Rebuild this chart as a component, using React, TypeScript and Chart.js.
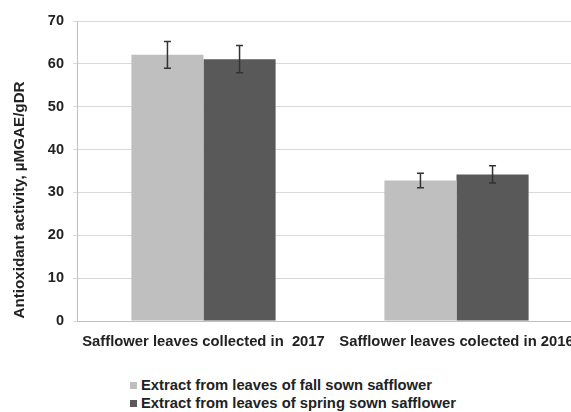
import React, { useEffect, useRef } from "react";
import { Chart, registerables } from "chart.js";

Chart.register(...registerables);

const categories = ["Safflower leaves collected in  2017", "Safflower leaves colected in 2016"];
const seriesLabels = [
  "Extract from leaves of fall sown safflower",
  "Extract from leaves of spring sown safflower",
];
const fallValues = [62.1, 32.8];
const springValues = [61.1, 34.2];
const fallErrors = [3.1, 1.7];
const springErrors = [3.2, 2.0];
const yTicks = [0, 10, 20, 30, 40, 50, 60, 70];
const yTitle = "Antioxidant activity, µMGAE/gDR";

const colors = ["#BFBFBF", "#595959"];
const FONT = "'Liberation Sans', Arial, sans-serif";
const FS = 14.8;

const errorBarPlugin = {
  id: "errorBars",
  afterDatasetsDraw(chart: any) {
    const ctx = chart.ctx;
    const yScale = chart.scales.y;
    const errs = [fallErrors, springErrors];
    chart.data.datasets.forEach((ds: any, di: number) => {
      const meta = chart.getDatasetMeta(di);
      meta.data.forEach((bar: any, i: number) => {
        const v = ds.data[i];
        const e = errs[di][i];
        const x = bar.x;
        const yTop = yScale.getPixelForValue(v + e);
        const yBot = yScale.getPixelForValue(v - e);
        ctx.save();
        ctx.strokeStyle = "#333333";
        ctx.lineWidth = 1.5;
        ctx.beginPath();
        ctx.moveTo(x, yTop);
        ctx.lineTo(x, yBot);
        ctx.moveTo(x - 3.5, yTop);
        ctx.lineTo(x + 3.5, yTop);
        ctx.moveTo(x - 3.5, yBot);
        ctx.lineTo(x + 3.5, yBot);
        ctx.stroke();
        ctx.restore();
      });
    });
  },
};

const yTitlePlugin = {
  id: "yTitleText",
  afterDraw(chart: any) {
    const ctx = chart.ctx;
    ctx.save();
    ctx.translate(20, 200);
    ctx.rotate(-Math.PI / 2);
    ctx.font = `bold 15.2px ${FONT}`;
    ctx.fillStyle = "#222";
    ctx.textAlign = "center";
    ctx.textBaseline = "middle";
    ctx.fillText(yTitle, 0, 0);
    ctx.restore();
  },
};

export default function App() {
  const ref = useRef<HTMLCanvasElement | null>(null);
  useEffect(() => {
    if (!ref.current) return;
    const chart = new Chart(ref.current, {
      type: "bar",
      data: {
        labels: categories,
        datasets: [
          { label: seriesLabels[0], data: fallValues, backgroundColor: colors[0] },
          { label: seriesLabels[1], data: springValues, backgroundColor: colors[1] },
        ],
      },
      options: {
        animation: false,
        responsive: false,
        maintainAspectRatio: false,
        layout: { padding: { top: 21, right: 7, bottom: 9, left: 0 } },
        datasets: { bar: { categoryPercentage: 0.57, barPercentage: 1 } },
        plugins: { legend: { display: false }, tooltip: { enabled: false } },
        scales: {
          x: {
            grid: { display: false, drawTicks: false },
            border: { display: true, color: "#BFBFBF" },
            ticks: { color: "#222", padding: 12, font: { family: FONT, size: FS, weight: "bold" }, maxRotation: 0, autoSkip: false },
            afterFit: (s: any) => { s.height = 30; },
          },
          y: {
            min: 0,
            max: 70,
            afterBuildTicks: (s: any) => { s.ticks = yTicks.map((v) => ({ value: v })); },
            grid: { color: "#D9D9D9", tickLength: 4, drawTicks: true },
            border: { display: true, color: "#BFBFBF" },
            ticks: { color: "#222", padding: 9, font: { family: FONT, size: 14.5, weight: "bold" } },
            title: { display: false },
            afterFit: (s: any) => { s.width = 77; },
          },
        },
      },
      plugins: [errorBarPlugin, yTitlePlugin],
    });
    return () => chart.destroy();
  }, []);

  const legendFont: React.CSSProperties = {
    fontFamily: FONT,
    fontWeight: "bold",
    fontSize: FS,
    color: "#222",
    display: "flex",
    alignItems: "center",
    height: 18,
    whiteSpace: "nowrap",
  };

  return (
    <div style={{ position: "fixed", left: 0, top: 0, width: 571, height: 412, overflow: "hidden", background: "#fff" }}>
      <canvas ref={ref} width={590} height={360} style={{ position: "absolute", left: 0, top: 0, width: 590, height: 360 }} />
      <div style={{ position: "absolute", left: 130, top: 376 }}>
        {seriesLabels.map((l, i) => (
          <div key={l} style={legendFont}>
            <span style={{ display: "inline-block", width: 7, height: 7, background: colors[i], marginRight: 4 }} />
            <span>{l}</span>
          </div>
        ))}
      </div>
    </div>
  );
}
